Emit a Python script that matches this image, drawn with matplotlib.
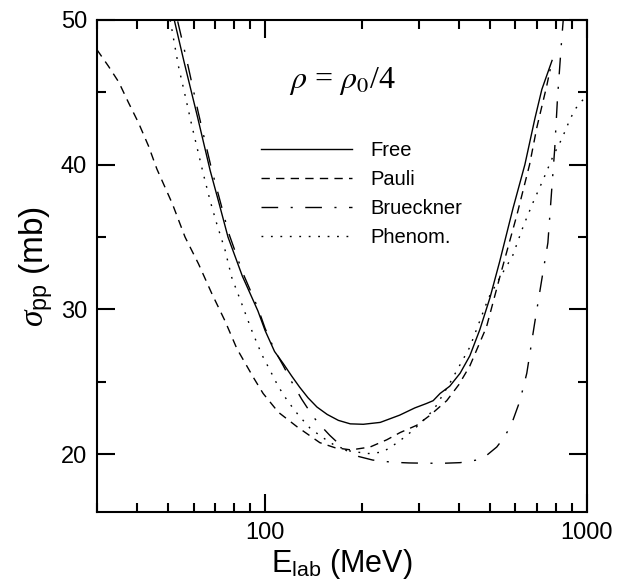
import numpy as np
import matplotlib
matplotlib.use("Agg")
import matplotlib.pyplot as plt
from matplotlib.ticker import LogLocator, FixedLocator, FuncFormatter, NullFormatter

# fonts: Arial-like text, italic serif greek
plt.rcParams['font.family'] = ['Liberation Sans', 'DejaVu Sans']
plt.rcParams['mathtext.fontset'] = 'custom'
plt.rcParams['mathtext.rm'] = 'Liberation Sans'
plt.rcParams['mathtext.it'] = 'Liberation Serif:italic'

# ---- data (E in MeV, sigma in mb) ----
E_free = [52.2, 56, 61.5, 67.5, 72, 76.7, 85, 95, 100, 107, 114, 121, 128, 136, 145, 156,
          169, 184, 202, 228, 262, 292, 317, 333, 350, 375, 404, 433, 465, 500, 536, 590,
          642, 690, 725, 780]
S_free = [50.0, 47.1, 43.4, 39.6, 37.3, 35.0, 32.3, 29.9, 28.55, 27.1, 26.25, 25.4, 24.64,
          23.9, 23.26, 22.75, 22.34, 22.1, 22.07, 22.2, 22.7, 23.2, 23.5, 23.7, 24.2, 24.7,
          25.6, 26.8, 28.6, 30.8, 33.3, 37.0, 40.0, 43.2, 45.2, 47.2]

E_pauli = [30, 32.6, 35.1, 37.6, 40.4, 43.4, 46.1, 51.5, 56.4, 62.1, 68.3, 75.1, 81.7, 92,
           98.6, 110, 125.7, 148, 165, 185, 212, 239, 263, 296, 326, 367, 400, 433, 488,
           536, 606, 664, 700, 750, 770]
S_pauli = [47.95, 46.8, 45.7, 44.3, 42.9, 41.3, 39.7, 37.3, 35.0, 33.15, 31.1, 29.2, 27.3,
           25.3, 24.2, 22.9, 21.9, 20.8, 20.45, 20.3, 20.5, 21.0, 21.5, 22.0, 22.7, 23.7,
           24.8, 26.1, 28.8, 32.2, 36.5, 40.0, 42.6, 45.4, 46.6]

E_brueck = [53.5, 57, 62, 68, 77, 85, 95, 100, 107, 114, 121, 130, 141, 150, 159, 170, 180,
            195, 216, 248, 280, 320, 360, 404, 455, 490, 525, 555, 584, 620, 651, 688, 730,
            757, 780, 795, 811, 836, 845]
S_brueck = [49.9, 47.3, 43.6, 39.8, 35.3, 32.6, 30.1, 28.7, 27.2, 26.1, 25.0, 23.8, 22.6,
            21.9, 21.3, 20.7, 20.2, 19.85, 19.6, 19.45, 19.4, 19.38, 19.38, 19.42, 19.6,
            19.95, 20.5, 21.2, 22.1, 23.7, 25.6, 29.0, 32.5, 34.6, 38.6, 41.1, 44.6, 48.7,
            50.0]

E_phen = [50.7, 53.8, 56.4, 59.2, 64.3, 67.5, 70.8, 75.1, 78.8, 84.6, 90.9, 97.6, 103.6,
          109.8, 117.3, 127, 138, 150, 165, 185, 210, 232, 250, 276, 303, 335, 375, 433, 495,
          540, 588, 636, 681, 733, 786, 837, 878, 917, 1000]
S_phen = [50.0, 46.8, 44.8, 42.7, 39.35, 37.5, 35.9, 34.1, 32.2, 30.4, 28.55, 26.9, 25.8,
          24.7, 23.7, 22.7, 21.8, 21.2, 20.6, 20.2, 20.05, 20.15, 20.6, 21.3, 22.1, 23.1,
          24.9, 27.4, 30.8, 32.3, 33.7, 35.8, 37.4, 39.0, 40.6, 41.8, 42.9, 43.8, 44.8]

labels = ['Free', 'Pauli', 'Brueckner', 'Phenom.']

fig = plt.figure(figsize=(6.17, 5.86), dpi=100)
ax = fig.add_axes([0.157, 0.126, 0.794, 0.840])

lw = 1.0
ax.plot(E_free, S_free, color='black', lw=lw, ls='-', label=labels[0])
ax.plot(E_pauli, S_pauli, color='black', lw=lw, ls=(0, (6, 4.5)), label=labels[1])
ax.plot(E_brueck, S_brueck, color='black', lw=lw, ls=(0, (12, 9, 1.5, 9)), label=labels[2])
ax.plot(E_phen, S_phen, color='black', lw=lw, ls=(0, (1.3, 5.5)), label=labels[3])

ax.set_xscale('log')
ax.set_xlim(30, 1000)
ax.set_ylim(16, 50)

ax.xaxis.set_major_locator(FixedLocator([100, 1000]))
ax.xaxis.set_major_formatter(FuncFormatter(lambda v, p: f"{int(v)}"))
ax.xaxis.set_minor_locator(LogLocator(base=10, subs=np.arange(2, 10), numticks=20))
ax.xaxis.set_minor_formatter(NullFormatter())
ax.yaxis.set_major_locator(FixedLocator([20, 30, 40, 50]))
ax.yaxis.set_minor_locator(FixedLocator([25, 35, 45]))

ax.tick_params(which='both', direction='in', top=True, right=True, width=1.5,
               labelsize=17, pad=7)
ax.tick_params(which='major', length=13)
ax.tick_params(which='minor', length=6.5)
for sp in ax.spines.values():
    sp.set_linewidth(1.5)

ax.set_xlabel(r'E$_{\mathrm{lab}}$ (MeV)', fontsize=22, labelpad=2)
ax.set_ylabel(r'$\sigma_{\mathrm{pp}}$ (mb)', fontsize=24, labelpad=4)

ax.text(0.5, 0.875, r'$\rho$ = $\rho_0$/4', transform=ax.transAxes, ha='center',
        va='center', fontsize=23, family='Liberation Serif', math_fontfamily='stix')

ax.legend(loc='upper left', bbox_to_anchor=(0.315, 0.775), frameon=False, fontsize=14.5,
          handlelength=4.5, handletextpad=0.9, labelspacing=0.5, borderpad=0)

fig.savefig('out.png', dpi=100)
